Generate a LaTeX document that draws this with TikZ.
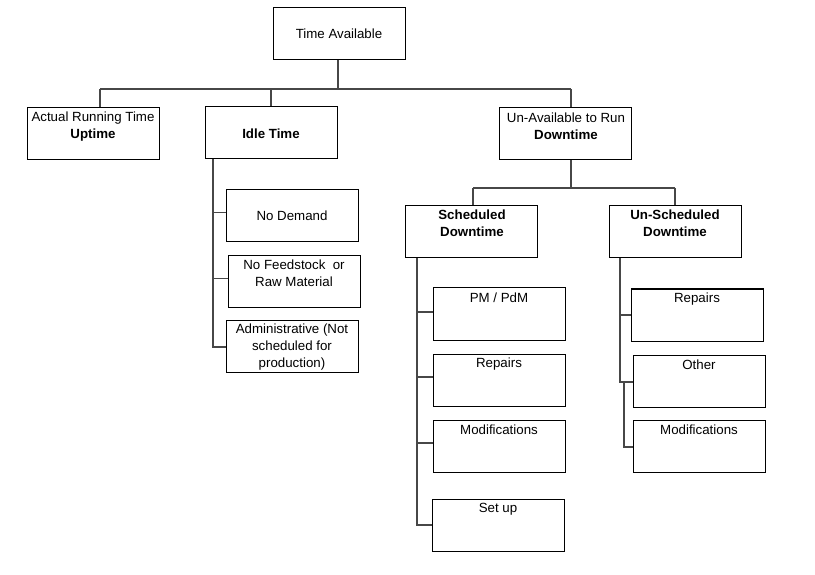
\documentclass[tikz,border=0pt]{standalone}
\usepackage{fontspec}
\setmainfont{Liberation Sans}
\usetikzlibrary{calc}
\begin{document}
\begin{tikzpicture}[x=1pt,y=-1pt,
  box/.style={draw=black,line width=1pt,minimum width=132pt,minimum height=52pt,inner sep=0pt},
  txt/.style={align=center,inner sep=0pt,font=\fontsize{13.3}{17}\selectfont},
  conn/.style={draw=black!72,line width=1.2pt}]
\useasboundingbox (0,0) rectangle (815,575);
% boxes
\node[box] (ta) at (339,34) {};
\node[box] (up) at (93,133.5) {};
\node[box] (it) at (271,132.5) {};
\node[box] (ua) at (565.5,134) {};
\node[box] (sd) at (471.5,231.5) {};
\node[box] (usd) at (675,231.5) {};
\node[box] (nd) at (292,215.5) {};
\node[box] (nf) at (294.5,281.5) {};
\node[box] (ad) at (292,346.5) {};
\node[box] (pm) at (499,314) {};
\node[box] (rp) at (499,380) {};
\node[box] (md) at (499,446) {};
\node[box] (su) at (498,525) {};
\node[box] (urp) at (697,315) {};
\node[box] (uot) at (699,381.5) {};
\node[box] (umd) at (699,446.5) {};
% texts
\node[txt] (tta) at (339,34) {Time Available};
\node[txt] (tup) at (93,126.5) {Actual Running Time\\\textbf{Uptime}};
\node[txt] (tit) at (271,134) {\textbf{Idle Time}};
\node[txt] (tua) at (566,126.5) {Un-Available to Run\\\textbf{Downtime}};
\node[txt] (tsd) at (472,223.5) {\textbf{Scheduled}\\\textbf{Downtime}};
\node[txt] (tusd) at (675,223.5) {\textbf{Un-Scheduled}\\\textbf{Downtime}};
\node[txt] (tnd) at (292,216) {No Demand};
\node[txt] (tnf) at (294,273.5) {No Feedstock~ or\\Raw Material};
\node[txt] (tad) at (292,347) {Administrative (Not\\scheduled for\\production)};
\node[txt] (tpm) at (499,298) {PM / PdM};
\node[txt] (trp) at (499,364) {Repairs};
\node[txt] (tmd) at (499,430) {Modifications};
\node[txt] (tsu) at (498,509) {Set up};
\node[txt] (turp) at (697,299) {Repairs};
\node[txt] (tuot) at (699,365) {Other};
\node[txt] (tumd) at (699,430) {Modifications};
% top bus
\coordinate (b0) at (338,89);
\coordinate (b1) at (100,89);
\coordinate (b2) at (271,89);
\coordinate (b3) at (571,89);
\draw[conn] (b1) -- (b3);
\draw[conn] (ta.south -| b0) -- (b0);
\draw[conn] (b1) -- (b1 |- up.north);
\draw[conn] (b2) -- (b2 |- it.north);
\draw[conn] (b3) -- (b3 |- ua.north);
% downtime bus
\coordinate (c0) at (571,188);
\coordinate (c1) at (473,188);
\coordinate (c2) at (675,188);
\draw[conn] (ua.south -| c0) -- (c0);
\draw[conn] (c1) -- (c2);
\draw[conn] (c1) -- (c1 |- sd.north);
\draw[conn] (c2) -- (c2 |- usd.north);
% idle children
\coordinate (i0) at (213,347);
\draw[conn] (it.south -| i0) -- (i0) -- (i0 -| ad.west);
\draw[conn] ($(i0 |- nd.west)+(0,-3)$) -- ($(nd.west)+(0,-3)$);
\draw[conn] ($(i0 |- nf.west)+(0,-3)$) -- ($(nf.west)+(0,-3)$);
% scheduled children
\coordinate (s0) at (417,525);
\draw[conn] (sd.south -| s0) -- (s0) -- (s0 -| su.west);
\draw[conn] ($(s0 |- pm.west)+(0,-2)$) -- ($(pm.west)+(0,-2)$);
\draw[conn] ($(s0 |- rp.west)+(0,-3)$) -- ($(rp.west)+(0,-3)$);
\draw[conn] ($(s0 |- md.west)+(0,-3)$) -- ($(md.west)+(0,-3)$);
% unscheduled children
\coordinate (u0) at (620,382);
\coordinate (u1) at (624,382);
\coordinate (u2) at (624,447);
\draw[conn] (usd.south -| u0) -- (u0) -- (u0 -| uot.west);
\draw[conn] (u0 |- urp.west) -- (urp.west);
\draw[conn] (u1) -- (u2) -- (u2 -| umd.west);
\end{tikzpicture}
\end{document}
